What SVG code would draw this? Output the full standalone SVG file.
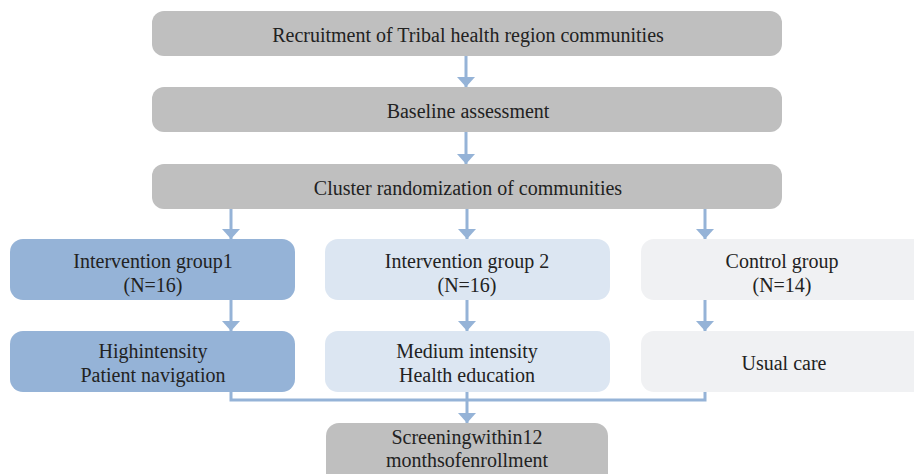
<svg xmlns="http://www.w3.org/2000/svg" width="914" height="474" viewBox="0 0 914 474">
  <defs>
    <marker id="arrow" viewBox="0 0 10 18" refX="10" refY="9" markerWidth="10" markerHeight="18" markerUnits="userSpaceOnUse" orient="auto">
      <path d="M0,0 L10,9 L0,18 Z" fill="#95B3D7"/>
    </marker>
    <style>
      .gray { fill: #BFBFBF; }
      .blue { fill: #95B3D7; }
      .light { fill: #DCE6F2; }
      .pale { fill: #F0F1F3; }
      .conn { stroke: #95B3D7; stroke-width: 3; fill: none; }
    </style>
  </defs>
  <rect width="914" height="474" fill="#FFFFFF"/>

  <!-- connectors -->
  <g id="connectors">
    <line class="conn" x1="466" y1="56" x2="466" y2="87" marker-end="url(#arrow)"/>
    <line class="conn" x1="466" y1="132" x2="466" y2="164" marker-end="url(#arrow)"/>
    <line class="conn" x1="231" y1="209" x2="231" y2="239" marker-end="url(#arrow)"/>
    <line class="conn" x1="467" y1="209" x2="467" y2="239" marker-end="url(#arrow)"/>
    <line class="conn" x1="705" y1="209" x2="705" y2="239" marker-end="url(#arrow)"/>
    <line class="conn" x1="231" y1="300" x2="231" y2="331" marker-end="url(#arrow)"/>
    <line class="conn" x1="467" y1="300" x2="467" y2="331" marker-end="url(#arrow)"/>
    <line class="conn" x1="705" y1="300" x2="705" y2="331" marker-end="url(#arrow)"/>
    <polyline class="conn" points="231,391 231,400 705,400 705,391"/>
    <line class="conn" x1="467" y1="391" x2="467" y2="423" marker-end="url(#arrow)"/>
  </g>

  <g font-family="Liberation Serif, DejaVu Serif, serif" font-size="20" fill="#222222" text-anchor="middle">
    <g id="recruitment">
      <rect class="gray" x="152" y="11" width="630" height="45" rx="12"/>
      <text x="468" y="42">Recruitment of Tribal health region communities</text>
    </g>
    <g id="baseline">
      <rect class="gray" x="152" y="87" width="630" height="45" rx="12"/>
      <text x="468" y="118">Baseline assessment</text>
    </g>
    <g id="randomization">
      <rect class="gray" x="152" y="164" width="630" height="45" rx="12"/>
      <text x="468" y="195">Cluster randomization of communities</text>
    </g>

    <g id="group1">
      <rect class="blue" x="10" y="239" width="285" height="61" rx="13"/>
      <text x="153" y="268">Intervention group1</text>
      <text x="153" y="292">(N=16)</text>
    </g>
    <g id="group2">
      <rect class="light" x="325" y="239" width="285" height="61" rx="13"/>
      <text x="467" y="268">Intervention group 2</text>
      <text x="467" y="292">(N=16)</text>
    </g>
    <g id="control">
      <rect class="pale" x="641" y="239" width="285" height="61" rx="13"/>
      <text x="782" y="268">Control group</text>
      <text x="782" y="292">(N=14)</text>
    </g>

    <g id="high">
      <rect class="blue" x="10" y="331" width="285" height="61" rx="13"/>
      <text x="153" y="358">Highintensity</text>
      <text x="153" y="382">Patient navigation</text>
    </g>
    <g id="medium">
      <rect class="light" x="325" y="331" width="285" height="61" rx="13"/>
      <text x="467" y="358">Medium intensity</text>
      <text x="467" y="382">Health education</text>
    </g>
    <g id="usual">
      <rect class="pale" x="641" y="331" width="285" height="61" rx="13"/>
      <text x="784" y="370">Usual care</text>
    </g>

    <g id="screening">
      <rect class="gray" x="326" y="423" width="282" height="64" rx="13"/>
      <text x="467" y="444">Screeningwithin12</text>
      <text x="467" y="467">monthsofenrollment</text>
    </g>
  </g>
</svg>
